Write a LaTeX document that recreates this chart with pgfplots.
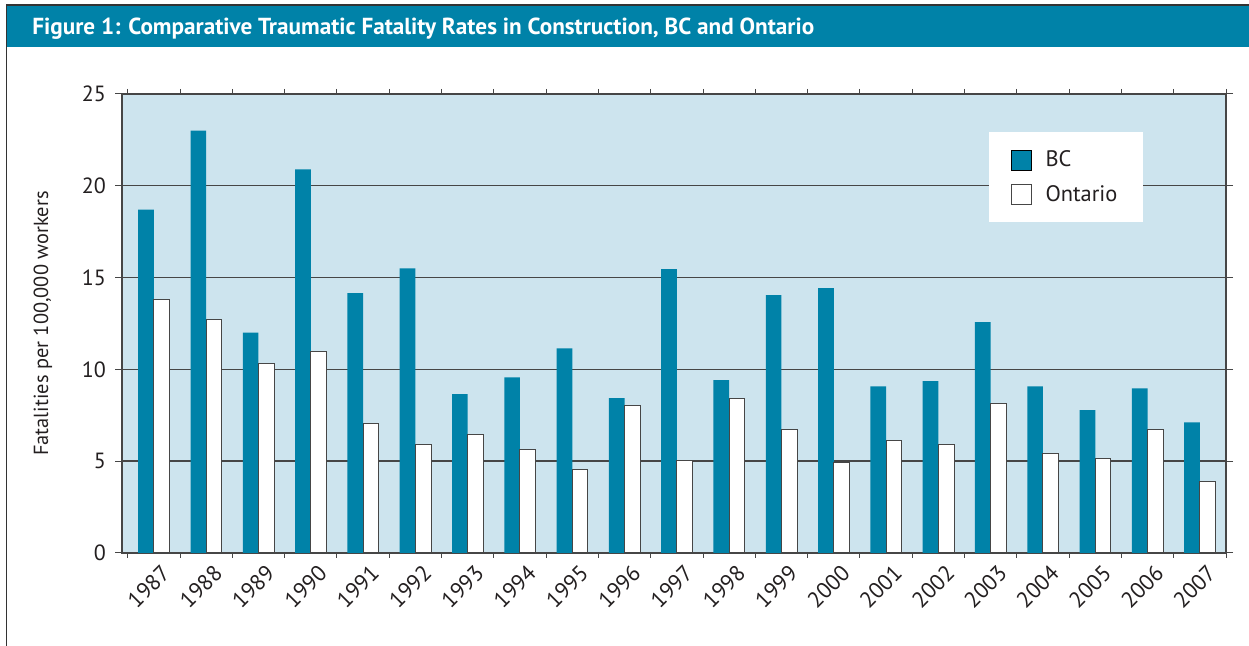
\documentclass[border=0pt]{standalone}
\usepackage{pgfplots}
\pgfplotsset{compat=1.18}
\usepackage{fontspec}
\setmainfont{PT Sans}
\definecolor{teal1}{RGB}{0,130,168}
\definecolor{bgblue}{RGB}{205,228,238}
\definecolor{gridc}{RGB}{70,70,70}
\definecolor{txt}{RGB}{35,31,32}
\begin{document}
\begin{tikzpicture}
\path[use as bounding box] (0,0) rectangle (624.5pt,323pt);
\fill[teal1] (3pt,299.5pt) rectangle (624.5pt,320.5pt);
\draw[line width=0.6pt, black!80] (3.25pt,0) -- (3.25pt,320.5pt) -- (624.5pt,320.5pt);
\node[anchor=base west, inner sep=0, text=white, font=\bfseries\fontsize{11.6}{13}\selectfont] at (16pt,305.6pt) {Figure 1: Comparative Traumatic Fatality Rates in Construction, BC and Ontario};
\begin{axis}[
  at={(61pt,46.5pt)}, anchor=south west,
  scale only axis, width=552pt, height=229.5pt,
  xmin=-0.61, xmax=20.5, ymin=0, ymax=25,
  ytick={0,5,...,25},
  xtick={0,...,20},
  xticklabels={1987,1988,1989,1990,1991,1992,1993,1994,1995,1996,1997,1998,1999,2000,2001,2002,2003,2004,2005,2006,2007},
  minor xtick={-0.5,0.5,...,20.5},
  major x tick style={draw=none},
  minor x tick style={gridc, line width=0.5pt},
  major y tick style={gridc, line width=0.5pt},
  tick align=outside,
  major tick length=3.5pt,
  minor tick length=2.5pt,
  axis line style={gridc, line width=0.6pt},
  axis background/.style={fill=bgblue},
  ymajorgrids, major grid style={gridc, line width=0.7pt},
  /pgf/number format/assume math mode=true,
  yticklabel style={text=txt, font=\fontsize{11}{13}\selectfont, xshift=-1pt},
  xticklabel style={text=txt, font=\fontsize{11.2}{13}\selectfont, rotate=45, anchor=east, xshift=4.5pt, yshift=-7.5pt},
  ylabel={Fatalities per 100,000 workers},
  ylabel style={at={(axis description cs:-0.0716,0.5)}, anchor=center, rotate=0, text=txt, font=\fontsize{10.2}{12}\selectfont},
  legend image code/.code={\draw[#1] (0pt,-5pt) rectangle (10pt,5pt); \path[draw=none,fill=none] (0pt,0pt) -- (15pt,0pt);},
  legend style={at={(rel axis cs:0.785,0.917)}, anchor=north west, draw=none, fill=white,
    font=\fontsize{11.2}{13}\selectfont, text=txt, inner xsep=11pt, inner ysep=7pt,
    row sep=4pt},
  legend cell align=left,
]
\addplot[ybar, bar width=0.3, bar shift=-0.15, fill=teal1, draw=none] coordinates {
(0,18.7) (1,23.0) (2,12.0) (3,20.9) (4,14.15) (5,15.5) (6,8.65) (7,9.57) (8,11.15) (9,8.43) (10,15.46)
(11,9.41) (12,14.04) (13,14.42) (14,9.08) (15,9.36) (16,12.57) (17,9.08) (18,7.78) (19,8.97) (20,7.12)};
\addlegendentry{BC}
\addplot[ybar, bar width=0.3, bar shift=0.15, fill=white, draw=gridc, line width=0.5pt] coordinates {
(0,13.8) (1,12.7) (2,10.3) (3,11.0) (4,7.03) (5,5.9) (6,6.43) (7,5.63) (8,4.53) (9,8.03) (10,5.03)
(11,8.43) (12,6.72) (13,4.93) (14,6.12) (15,5.9) (16,8.14) (17,5.42) (18,5.13) (19,6.72) (20,3.91)};
\addlegendentry{Ontario}
\end{axis}
\end{tikzpicture}
\end{document}
